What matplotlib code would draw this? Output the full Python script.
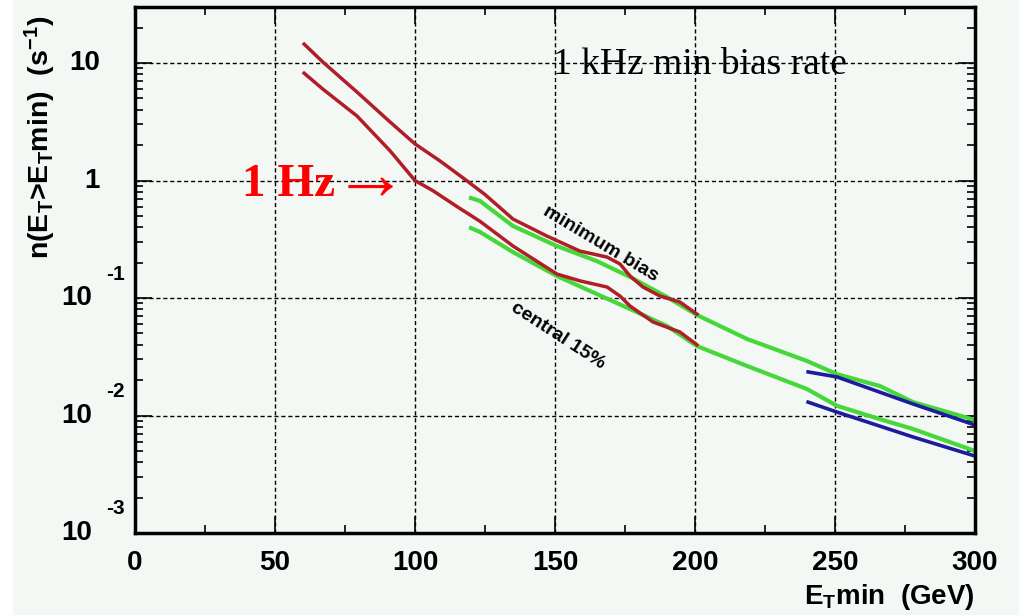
import matplotlib
matplotlib.use("Agg")
import matplotlib.pyplot as plt
from matplotlib.patches import Rectangle
from matplotlib.ticker import MultipleLocator, LogLocator, NullFormatter

plt.rcParams['font.family'] = ['Liberation Sans', 'DejaVu Sans']
plt.rcParams['mathtext.fontset'] = 'custom'
plt.rcParams['mathtext.rm'] = 'Liberation Sans:bold'
plt.rcParams['mathtext.bf'] = 'Liberation Sans:bold'
plt.rcParams['mathtext.default'] = 'bf'

# rate curves (E_T min in GeV, rate in s^-1)
red_hi_x = [60.4, 67.1, 79.3, 91.1, 100, 108.9, 117, 125, 135, 147.1, 158.9, 168.6, 173.2,
            176.8, 181.4, 187.5, 194.6, 200.7]
red_hi_y = [14.5, 10.2, 5.66, 3.15, 2.05, 1.47, 1.06, 0.76, 0.47, 0.337, 0.251, 0.223, 0.195,
            0.154, 0.124, 0.104, 0.0925, 0.073]
red_lo_x = [60.4, 67.1, 79.3, 91.1, 100, 106.4, 115, 123.2, 135, 150.7, 158.9, 168.6, 173.2,
            176.8, 185, 194.6, 200.7]
red_lo_y = [8.2, 6.0, 3.54, 1.79, 1.0, 0.82, 0.6, 0.45, 0.277, 0.16, 0.14, 0.124, 0.104,
            0.0855, 0.0625, 0.0514, 0.040]

green_hi_x = [120, 123.2, 135, 150.7, 165, 176.8, 190, 200.7, 218.6, 240, 250.7, 266.1, 277.9, 300]
green_hi_y = [0.71, 0.67, 0.41, 0.277, 0.206, 0.151, 0.102, 0.0717, 0.0448, 0.0291, 0.0225,
              0.0178, 0.0130, 0.00916]
green_lo_x = [120, 123.2, 135, 150.7, 165, 176.8, 190, 200.7, 218.6, 240, 250.7, 266.1, 277.9, 300]
green_lo_y = [0.394, 0.365, 0.246, 0.154, 0.108, 0.0806, 0.0578, 0.039, 0.0264, 0.0168, 0.0121,
              0.0093, 0.00767, 0.00499]

blue_hi_x = [240.4, 250.7, 277.9, 300]
blue_hi_y = [0.0235, 0.0213, 0.01253, 0.0083]
blue_lo_x = [240.4, 250.7, 277.9, 300]
blue_lo_y = [0.0130, 0.0107, 0.00656, 0.00452]

xticks = [0, 50, 100, 150, 200, 250, 300]
yticks = [10, 1, 0.1, 0.01, 0.001]
yexp = [None, None, '-1', '-2', '-3']

bg = '#f4f8f5'
fig = plt.figure(figsize=(10.19, 6.15), dpi=100, facecolor=bg)
fig.patches.append(Rectangle((0, 0), 13 / 1019, 1, transform=fig.transFigure,
                             facecolor='white', edgecolor='none', zorder=0))
ax = fig.add_axes([135 / 1019, 1 - 533 / 615, 840 / 1019, 526 / 615])
ax.set_facecolor(bg)

ax.set_xlim(0, 300)
ax.set_yscale('log')
ax.set_ylim(1e-3, 30)

ax.grid(True, which='major', color='black', linestyle=(0, (3, 2)), linewidth=1.0)
ax.set_axisbelow(True)

green = '#46d83a'
red = '#b01e28'
blue = '#1c1c9c'
ax.plot(green_hi_x, green_hi_y, color=green, lw=3.0, solid_joinstyle='round')
ax.plot(green_lo_x, green_lo_y, color=green, lw=3.0, solid_joinstyle='round')
ax.plot(red_hi_x, red_hi_y, color=red, lw=2.5, solid_joinstyle='round')
ax.plot(red_lo_x, red_lo_y, color=red, lw=2.5, solid_joinstyle='round')
ax.plot(blue_hi_x, blue_hi_y, color=blue, lw=2.6, solid_joinstyle='round')
ax.plot(blue_lo_x, blue_lo_y, color=blue, lw=2.6, solid_joinstyle='round')

for s in ax.spines.values():
    s.set_linewidth(2.5)
    s.set_color('black')

ax.xaxis.set_major_locator(MultipleLocator(50))
ax.xaxis.set_minor_locator(MultipleLocator(25))
ax.yaxis.set_major_locator(LogLocator(base=10, numticks=10))
ax.yaxis.set_minor_locator(LogLocator(base=10, subs=range(2, 10), numticks=20))
ax.yaxis.set_minor_formatter(NullFormatter())
ax.tick_params(which='both', direction='in', top=True, right=True, color='black')
ax.tick_params(which='major', length=12, width=1.2)
ax.tick_params(which='minor', length=6, width=1.2)
ax.tick_params(axis='x', which='major', labelsize=20, pad=12)
ax.set_xticks(xticks)
ax.set_xticklabels([str(v) for v in xticks], fontweight='bold')
ax.set_yticklabels([])

# ROOT-style y labels: base on the tick, exponent up and to the right
for v, e in zip(yticks, yexp):
    if e is None:
        ax.annotate('1' if v == 1 else '10', xy=(0, v), xycoords=('axes fraction', 'data'),
                    xytext=(-35, 0), textcoords='offset pixels', ha='right', va='center',
                    fontsize=20, fontweight='bold', annotation_clip=False)
    else:
        ax.annotate('10', xy=(0, v), xycoords=('axes fraction', 'data'),
                    xytext=(-43, 0), textcoords='offset pixels', ha='right', va='center',
                    fontsize=20, fontweight='bold', annotation_clip=False)
        ax.annotate(e, xy=(0, v), xycoords=('axes fraction', 'data'),
                    xytext=(-29, 24), textcoords='offset pixels', ha='left', va='center',
                    fontsize=15, fontweight='bold', annotation_clip=False)

fig.text(40 / 1019, 1 - 137 / 615, r'n(E$_\mathrm{T}$>E$_\mathrm{T}$min)  (s$^{\mathrm{-1}}$)',
         rotation=90, ha='center', va='center', fontsize=20.5, fontweight='bold')
fig.text(975 / 1019, 1 - 597 / 615, r'E$_\mathrm{T}$min  (GeV)',
         ha='right', va='center', fontsize=20, fontweight='bold')

ax.text(149.3, 8.06, '1 kHz min bias rate', fontsize=27, family='Liberation Serif',
        ha='left', va='baseline')
ax.text(38.2, 0.738, '1 Hz', fontsize=34, family='Liberation Serif',
        fontweight='bold', color='red', ha='left', va='baseline')
ax.text(70.7, 1.0, '\u2192', fontsize=54, family=['Liberation Serif', 'DejaVu Serif'],
        fontweight='bold', color='red', ha='left', va='center')
ax.text(166.4, 0.288, 'minimum bias', fontsize=14, fontweight='bold', rotation=-31,
        ha='center', va='center', rotation_mode='anchor')
ax.text(151, 0.0475, 'central 15%', fontsize=14, fontweight='bold', rotation=-33,
        ha='center', va='center', rotation_mode='anchor')

fig.savefig('out.png', dpi=100, facecolor=fig.get_facecolor())
